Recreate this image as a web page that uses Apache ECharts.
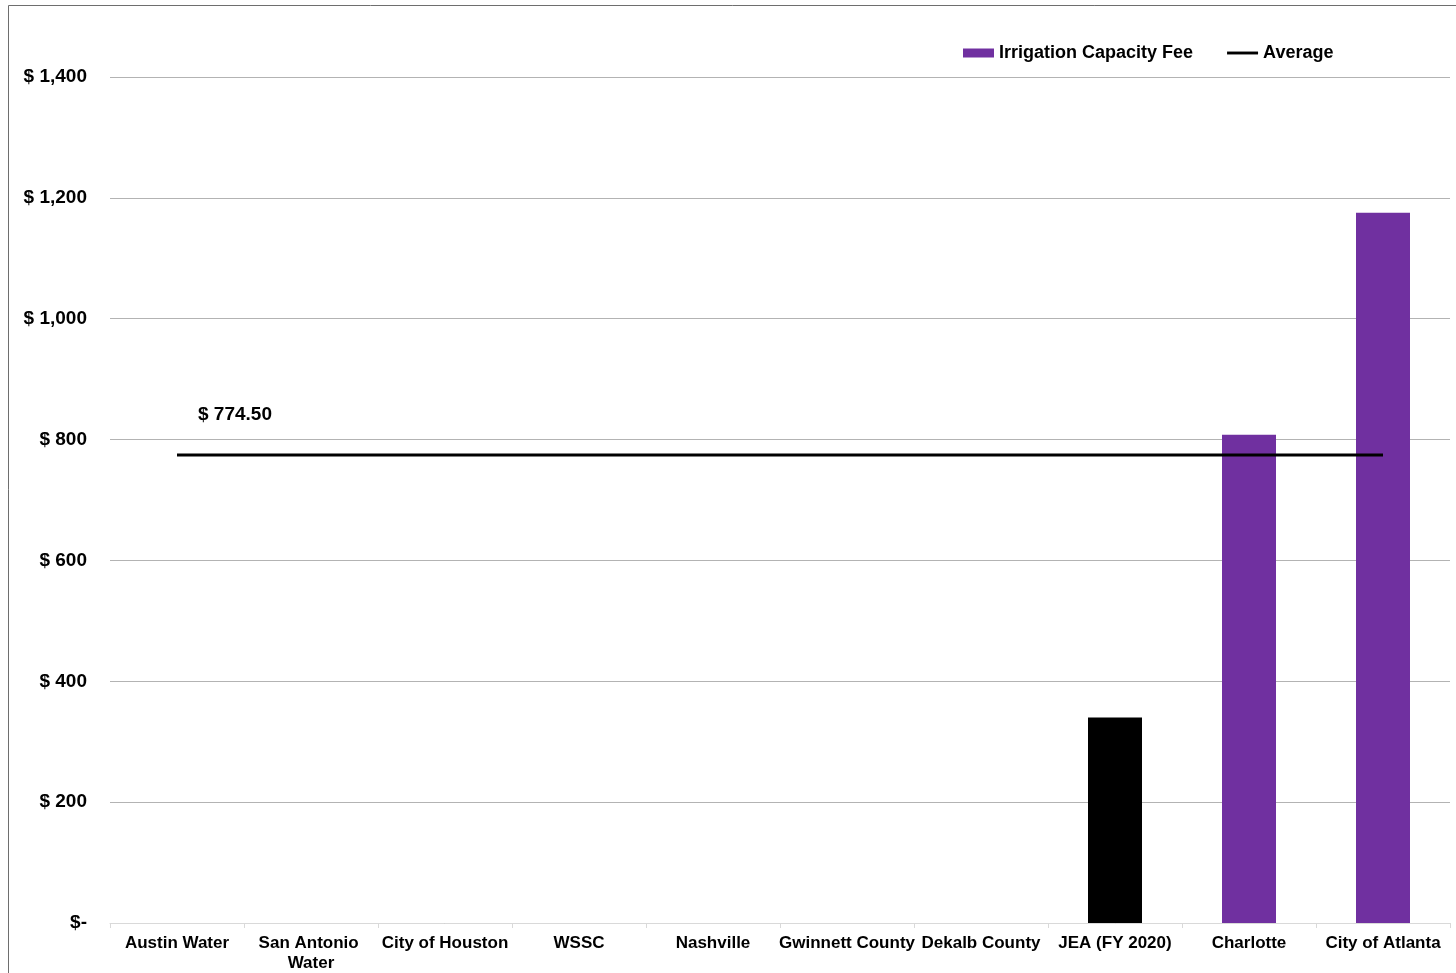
<!DOCTYPE html>
<html>
<head>
<meta charset="utf-8">
<script src="https://cdn.jsdelivr.net/npm/echarts@6/dist/echarts.min.js"></script>
<style>
html,body{margin:0;padding:0;background:#fff;}
#chart{width:1456px;height:973px;}
</style>
</head>
<body>
<div id="chart"></div>
<script>
const categories = ["Austin Water","San Antonio Water","City of Houston","WSSC","Nashville","Gwinnett County","Dekalb County","JEA (FY 2020)","Charlotte","City of Atlanta"];
const feeValues = [null,null,null,null,null,null,null,340,808,1175.5];
const barColors = ["#7030A0","#7030A0","#7030A0","#7030A0","#7030A0","#7030A0","#7030A0","#000000","#7030A0","#7030A0"];
const averageValues = [774.5,774.5,774.5,774.5,774.5,774.5,774.5,774.5,774.5,774.5];
const averageLabel = "$ 774.50";
const yTicks = [0,200,400,600,800,1000,1200,1400];

const FONT = "'Liberation Sans', Arial, sans-serif";

function fmtY(v){
  if (v === 0) return "$-";
  return "$ " + v.toLocaleString("en-US");
}

const chart = echarts.init(document.getElementById('chart'), null, {renderer:'canvas'});
chart.setOption({
  animation:false,
  backgroundColor:'#ffffff',
  graphic:[{
    type:'rect', silent:true,
    shape:{x:8.5,y:5.5,width:1470,height:990},
    style:{fill:'none', stroke:'#6e6e6e', lineWidth:1}
  }],
  legend:{
    left:963, top:44, padding:0,
    itemGap:34,
    textStyle:{fontFamily:FONT, fontSize:18, fontWeight:'bold', color:'#000'},
    data:[
      {name:'Irrigation Capacity Fee', icon:'rect', itemStyle:{color:'#7030A0'}},
      {name:'Average', icon:'path://M0,0L32,0L32,3L0,3Z', itemStyle:{color:'#000'}}
    ],
    itemWidth:31, itemHeight:9
  },
  grid:{left:110, right:6, top:77, bottom:50, containLabel:false},
  xAxis:{
    type:'category',
    data:categories,
    axisLine:{show:true, lineStyle:{color:'#D9D9D9', width:1}},
    axisTick:{show:true, alignWithLabel:false, length:5, lineStyle:{color:'#D9D9D9'}},
    axisLabel:{
      interval:0, margin:10,
      fontFamily:FONT, fontSize:17, fontWeight:'bold', color:'#000',
      width:140, overflow:'break', lineHeight:20
    },
    splitLine:{show:false}
  },
  yAxis:{
    type:'value', min:0, max:1400, interval:200,
    axisLine:{show:false}, axisTick:{show:false},
    axisLabel:{
      margin:23, fontFamily:FONT, fontSize:19, fontWeight:'bold', color:'#000',
      formatter:function(v){ return yTicks.indexOf(v) >= 0 ? fmtY(v) : ''; }
    },
    splitLine:{show:true, lineStyle:{color:'#B3B3B3', width:1}}
  },
  series:[
    {
      name:'Irrigation Capacity Fee',
      type:'bar',
      barWidth:54,
      itemStyle:{color:'#7030A0'},
      data:feeValues.map(function(v,i){ return {value:v, itemStyle:{color:barColors[i]}}; })
    },
    {
      name:'Average',
      type:'line',
      symbol:'none',
      showSymbol:false,
      lineStyle:{color:'#000', width:3},
      itemStyle:{color:'#000'},
      data:averageValues,
      markPoint:{
        silent:true,
        symbol:'circle', symbolSize:1,
        itemStyle:{color:'rgba(0,0,0,0)'},
        data:[{coord:[0, averageValues[0]], value:averageValues[0]}],
        label:{show:true, position:'top', offset:[58,-25], formatter:averageLabel, fontFamily:FONT, fontSize:19, fontWeight:'bold', color:'#000'}
      }
    }
  ]
});
</script>
</body>
</html>
